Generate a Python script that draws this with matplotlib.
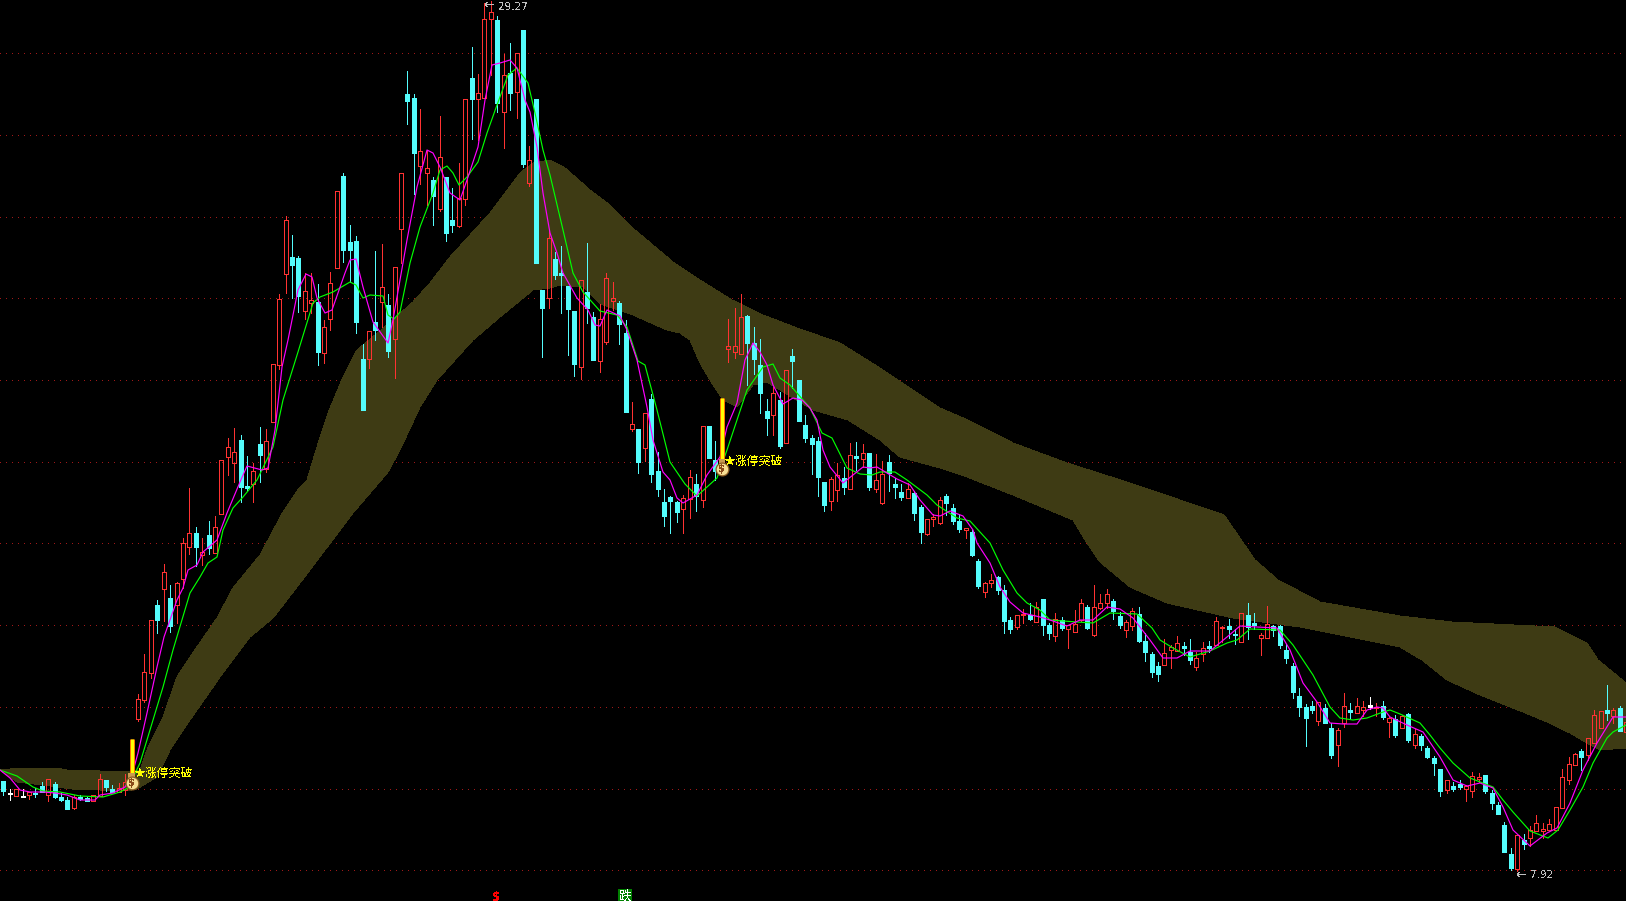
import numpy as np
import matplotlib
matplotlib.use("Agg")
import matplotlib.pyplot as plt

plt.rcParams['font.family'] = ['Noto Sans CJK SC', 'DejaVu Sans']
plt.rcParams['text.antialiased'] = False

# Vertical readings are chart levels counted from the top (axis inverted, price scale hidden)
highs = [
781,789,789,789,792,788,782,779,782,793,
797,795,795,797,795,774,780,785,783,774,
775,694,654,620,600,564,585,582,538,488,
527,538,521,516,460,438,428,435,456,463,
427,429,364,294,216,235,256,273,273,284,
320,272,191,173,225,236,344,331,251,244,
294,267,173,71,94,109,150,177,116,177,
188,163,99,47,74,3,1,16,54,43,
53,30,146,99,290,230,252,246,286,311,
280,243,312,304,273,282,301,320,402,429,
413,394,452,489,496,501,495,470,474,426,
426,441,455,319,308,294,315,327,339,399,
387,392,370,349,380,415,435,437,482,477,
463,467,443,442,444,453,454,461,455,478,
484,483,491,505,519,514,497,494,504,514,
528,530,559,582,574,576,585,617,615,609,
603,602,599,623,613,617,625,610,599,605,
585,594,589,599,612,620,608,607,633,652,
662,639,645,636,642,639,652,642,641,617,
626,619,629,613,603,613,633,606,625,625,
644,663,688,704,701,702,704,723,728,693,
703,698,701,697,703,701,717,715,715,713,
729,734,746,756,769,780,782,780,785,772,
773,775,790,802,822,848,835,834,826,815,
823,819,807,769,757,753,749,738,710,711,
685,708,706,722]
body_tops = [
781,793,789,796,792,793,786,779,784,797,
800,797,797,798,795,779,780,789,788,782,
775,699,672,620,605,572,598,583,543,533,
533,552,535,527,460,447,452,440,486,471,
444,441,364,299,220,257,258,291,300,302,
327,283,191,176,242,241,359,331,322,287,
305,267,173,94,98,151,168,180,157,177,
220,198,99,78,93,19,12,20,75,73,
53,30,160,99,290,238,259,273,286,311,
280,292,317,319,278,298,303,333,424,429,
413,399,471,502,497,502,498,477,484,426,
426,460,455,346,346,317,316,343,365,411,
393,400,370,356,380,425,438,441,482,479,
475,478,455,456,453,453,480,474,462,484,
492,489,493,507,519,517,500,496,508,521,
528,532,561,583,580,577,590,620,615,614,
615,607,599,625,619,620,625,624,603,607,
607,603,594,601,616,622,611,614,641,654,
666,653,647,643,646,652,658,648,646,621,
627,626,634,613,615,623,635,624,626,626,
650,666,696,707,706,702,708,728,730,706,
710,706,707,705,707,706,718,719,716,714,
734,736,748,758,769,780,786,784,786,776,
777,775,793,805,825,854,835,840,830,823,
829,824,807,777,764,754,751,738,715,711,
710,710,708,722]
body_bots = [
791,794,796,797,795,794,792,795,797,800,
809,808,799,801,801,796,787,792,792,790,
788,719,700,673,620,589,626,605,579,547,
547,555,548,553,514,457,463,487,488,484,
455,469,422,365,274,265,296,311,303,352,
353,319,268,250,250,322,410,359,330,302,
351,339,229,101,153,166,173,196,209,233,
225,226,199,99,99,98,19,103,112,93,
92,164,183,263,308,298,275,275,309,364,
367,308,360,361,342,301,324,412,429,462,
448,474,489,516,501,512,509,499,496,500,
458,471,472,349,352,354,343,359,393,418,
415,446,443,361,421,438,444,477,505,501,
490,487,489,458,459,487,489,503,473,487,
497,498,513,532,534,519,523,503,521,529,
530,555,586,592,583,590,621,629,627,615,
619,622,625,633,636,628,629,632,620,628,
635,608,603,611,625,630,626,641,652,672,
674,665,650,651,648,660,667,654,648,645,
628,629,635,642,627,625,638,638,630,645,
658,692,707,718,710,721,723,755,745,723,
712,713,710,707,708,717,722,735,728,740,
745,745,757,763,791,790,789,787,789,791,
779,791,803,814,852,868,869,844,838,831,
831,830,830,808,780,765,757,755,743,728,
713,716,731,732]
lows = [
795,800,796,797,799,797,792,801,798,801,
809,809,800,801,801,796,791,792,792,795,
788,721,702,678,633,621,632,623,588,554,
566,565,554,553,514,475,482,502,490,502,
482,472,422,369,293,298,312,319,313,365,
363,330,268,262,282,333,410,368,340,327,
357,378,263,124,194,184,205,225,211,241,
232,227,205,139,140,98,75,112,148,110,
118,167,186,263,357,308,279,313,355,376,
379,323,360,372,344,310,344,412,431,473,
461,482,496,526,533,522,533,518,511,507,
458,480,472,362,358,354,385,374,413,435,
435,448,443,388,421,442,474,496,511,510,
501,494,489,470,467,490,492,504,491,498,
500,498,520,543,535,526,524,515,524,532,
538,556,588,597,587,594,633,633,629,623,
620,622,635,639,641,630,648,632,621,629,
636,609,608,619,628,637,630,642,661,677,
681,665,668,651,655,664,670,661,652,645,
642,638,644,642,639,629,655,638,636,648,
663,698,716,746,713,725,723,758,766,727,
719,713,716,709,716,719,737,737,728,742,
748,750,758,775,796,793,791,789,801,797,
782,793,809,814,852,870,871,849,846,831,
838,830,830,808,784,765,770,760,743,728,
720,723,731,732]
kinds = ("cwrwrccrcc" "crccrrccrr" "rrrrcrcrrr" "crcrrrrccr" "crrrrccrrc"
         "rrrccccrcr" "crrccrrcrc" "crrcrrrcrc" "rcrccrcccc" "rccrrrccrc"
         "rcccccrrcr" "ccrrrrcccc" "rcrccccccr" "rcrcrcrrcc" "crccrrrccc"
         "rccrrcccrr" "crccrcrrrc" "rrrccrrccc" "crrrccrrcr" "rccrccrrcc"
         "cccccrccrr" "crrwrcrcrc" "rccccrccrr" "rcccccrcrr" "rrrrrrcrrr" "crcr")

fast_x = [0,10,20,30,43,55,67,80,95,100,113,125,132,138,147,157,164,170,177,183,188,197,203,217,227,240,
          247,262,268,275,282,288,298,306,312,317,325,332,345,350,356,363,373,388,393,407,417,427,433,440,450,460,467,478,485,492,500,510,517,525,530,537,543,550,
          557,563,577,588,595,600,607,620,627,637,647,653,663,670,677,683,697,707,720,727,737,745,753,760,767,773,783,793,802,810,817,
          823,830,843,853,863,870,877,897,910,920,933,940,950,963,973,977,990,1000,1010,1023,1040,1050,1067,1080,1093,1107,1120,1133,
          1150,1163,1177,1190,1210,1227,1240,1257,1277,1290,1303,1317,1330,1343,1357,1367,1377,1383,1390,1407,1423,1440,1453,1467,1480,1493,1503,1513,1530,1547,1557,1570,1583,1597,1613,1626]
fast_y = [770,778,790,792,792,793,795,800,800,795,793,787,775,753,713,667,637,620,600,588,570,565,552,540,513,482,
          466,470,468,430,367,340,290,274,277,298,313,310,273,260,259,287,322,343,320,240,187,150,153,167,193,200,180,147,100,65,63,60,68,100,112,147,193,233,
          253,273,298,310,325,326,310,316,330,360,407,440,472,480,498,503,495,475,457,427,403,360,343,352,365,385,404,398,400,408,420,
          450,467,483,475,467,468,467,479,485,500,515,516,511,516,530,543,563,587,602,613,617,620,626,620,620,607,609,618,
          640,658,658,651,651,637,626,627,628,650,683,702,723,724,724,710,707,708,717,725,732,757,780,786,783,788,807,830,846,833,828,803,770,743,717,717]
slow_x = [0,17,33,43,60,80,103,120,128,140,150,163,173,182,190,200,208,217,223,233,243,257,273,283,298,313,320,333,350,356,363,370,383,388,394,400,410,420,433,440,447,453,459,467,478,487,497,508,517,528,535,543,550,
          563,573,583,600,617,627,638,645,657,670,685,697,717,727,747,763,773,780,790,810,822,832,847,
          860,872,880,895,907,927,937,957,970,990,1003,1017,1027,1040,1050,1077,1093,1110,1137,1152,1160,1173,1190,1210,1227,1237,1250,1280,1293,1313,1330,1340,1353,1367,1383,1390,1400,1420,1430,1440,1453,1470,1493,1503,1513,1530,1548,1558,1570,1583,1593,1607,1613,1626]
slow_y = [770,776,787,791,792,796,797,792,788,763,730,687,650,620,593,577,563,557,530,508,497,480,447,400,352,303,297,292,282,285,298,295,296,315,319,312,263,227,193,170,166,173,185,177,162,133,105,75,68,83,113,150,175,
          230,273,292,311,315,327,361,365,410,462,484,496,478,450,390,367,364,378,385,408,433,438,468,
          474,475,472,472,480,495,505,518,521,543,570,593,603,610,620,622,623,613,614,628,640,648,657,651,643,640,629,630,645,675,707,718,720,718,712,710,714,723,735,748,763,778,787,800,812,831,838,830,810,787,763,738,732,725]
band_top_x = [0,10,33,57,67,100,130,140,147,163,177,190,217,233,260,283,300,307,317,328,343,357,387,413,430,450,490,520,533,550,565,590,610,635,673,700,732,763,797,840,880,913,940,968,1013,1067,1130,1180,1224,1255,1278,1320,1400,1452,1555,1587,1598,1626]
band_top_y = [770,769,768,768,770,771,771,770,750,717,677,657,618,588,555,512,487,480,447,413,377,350,325,302,283,257,213,173,163,160,168,190,205,230,262,280,300,315,328,343,368,390,408,420,443,463,483,500,515,560,580,602,616,622,627,643,660,683]
band_bot_x = [0,17,43,72,100,127,137,157,170,190,220,250,273,300,353,388,400,420,437,473,500,533,550,560,583,600,633,667,680,690,700,713,723,737,753,767,780,813,848,880,900,940,967,1013,1073,1087,1100,1130,1167,1233,1300,1400,1422,1447,1480,1523,1547,1570,1590,1600,1626]
band_bot_y = [770,782,785,789,790,791,789,777,750,720,677,637,618,583,513,472,450,407,380,340,317,290,288,285,287,304,315,330,333,340,363,385,400,407,385,382,390,410,420,440,457,468,477,495,520,543,562,587,603,618,627,647,660,680,695,712,722,733,745,750,748]
grid_levels = [53,135,217,298,380,462,543,625,707,789,870]
signal_bars = [20,112]
signal_tops = [739,398]
signal_bots = [777,460]
bag_levels = [783,469]
signal_text = "★涨停突破"
signal_text_levels = [773,461]

RED = '#FF3232'
CYAN = '#54FCFC'
colors = {'r': RED, 'c': CYAN, 'w': '#FFFFFF'}
LW = 0.72

fig = plt.figure(figsize=(16.26, 9.01), dpi=100, facecolor='black')
ax = fig.add_axes([0, 0, 1, 1])
ax.set_facecolor('black')
ax.set_xlim(0, 1626)
ax.set_ylim(901, 0)
ax.axis('off')

ax.hlines(grid_levels, 0, 1626, colors='#A01818', linewidth=LW, linestyles=(0, (1, 5.4)),
          antialiased=False, zorder=1)

ax.fill(np.r_[band_top_x, band_bot_x[::-1]], np.r_[band_top_y, band_bot_y[::-1]],
        color='#3E3B14', linewidth=0, antialiased=False, zorder=2)

xs = 3.3 + 6.415 * np.arange(len(highs))
hi, to, bo, lo = map(np.array, (highs, body_tops, body_bots, lows))
for k in 'rcw':
    m = np.array([c == k for c in kinds])
    col = colors[k]
    ax.vlines(xs[m], hi[m], to[m], colors=col, linewidth=LW, antialiased=False, zorder=3)
    ax.vlines(xs[m], bo[m], lo[m], colors=col, linewidth=LW, antialiased=False, zorder=3)
    ax.bar(xs[m], np.maximum(bo[m] - to[m], 1), bottom=to[m], width=4,
           facecolor='none' if k == 'r' else col, edgecolor=col, linewidth=LW,
           antialiased=False, zorder=3)

ax.plot(slow_x, slow_y, color='#00FF00', linewidth=0.85, zorder=4)
ax.plot(fast_x, fast_y, color='#FF00FF', linewidth=0.85, zorder=5)

sx = xs[signal_bars]
ax.vlines(sx, signal_tops, signal_bots, colors='#FF6A00', linewidth=3.6, zorder=6)
ax.vlines(sx, signal_tops, signal_bots, colors='#FFFF00', linewidth=2.2, zorder=7)
ax.scatter(sx, np.array(bag_levels) - 7, s=22, marker='s', facecolor='#C89A50', edgecolor='none', zorder=8)
ax.scatter(sx, bag_levels, s=85, facecolor='#F6DE93', edgecolor='#8A5A22', linewidth=0.9, zorder=8)
for x, lv, tl in zip(sx, bag_levels, signal_text_levels):
    ax.text(x, lv, '$', color='#8A4A1A', fontsize=7, fontweight='bold', ha='center', va='center',
            family='DejaVu Sans', zorder=9, parse_math=False)
    ax.text(x + 1.5, tl, signal_text, color='#FFFF00', fontsize=8.6, ha='left', va='center', zorder=10)

ax.text(484, 5, '←', color='#C0C0C0', fontsize=9, ha='left', va='center', family='DejaVu Sans', zorder=10)
ax.text(498, 6.5, '29.27', color='#C0C0C0', fontsize=7.6, ha='left', va='center', family='DejaVu Sans', zorder=10)
ax.text(1516, 875, '←', color='#C0C0C0', fontsize=9, ha='left', va='center', family='DejaVu Sans', zorder=10)
ax.text(1530, 875, '7.92', color='#C0C0C0', fontsize=7.6, ha='left', va='center', family='DejaVu Sans', zorder=10)

ax.text(496, 897, '$', color='#FF0000', fontsize=8.5, fontweight='bold', ha='center', va='center',
        family='DejaVu Sans', zorder=10, parse_math=False)
ax.text(625, 896, '跌', color='#FFFFFF', fontsize=9, ha='center', va='center', zorder=10,
        bbox=dict(boxstyle='square,pad=0.05', facecolor='#008000', edgecolor='none'))

fig.savefig('out.png', dpi=100, facecolor='black')
